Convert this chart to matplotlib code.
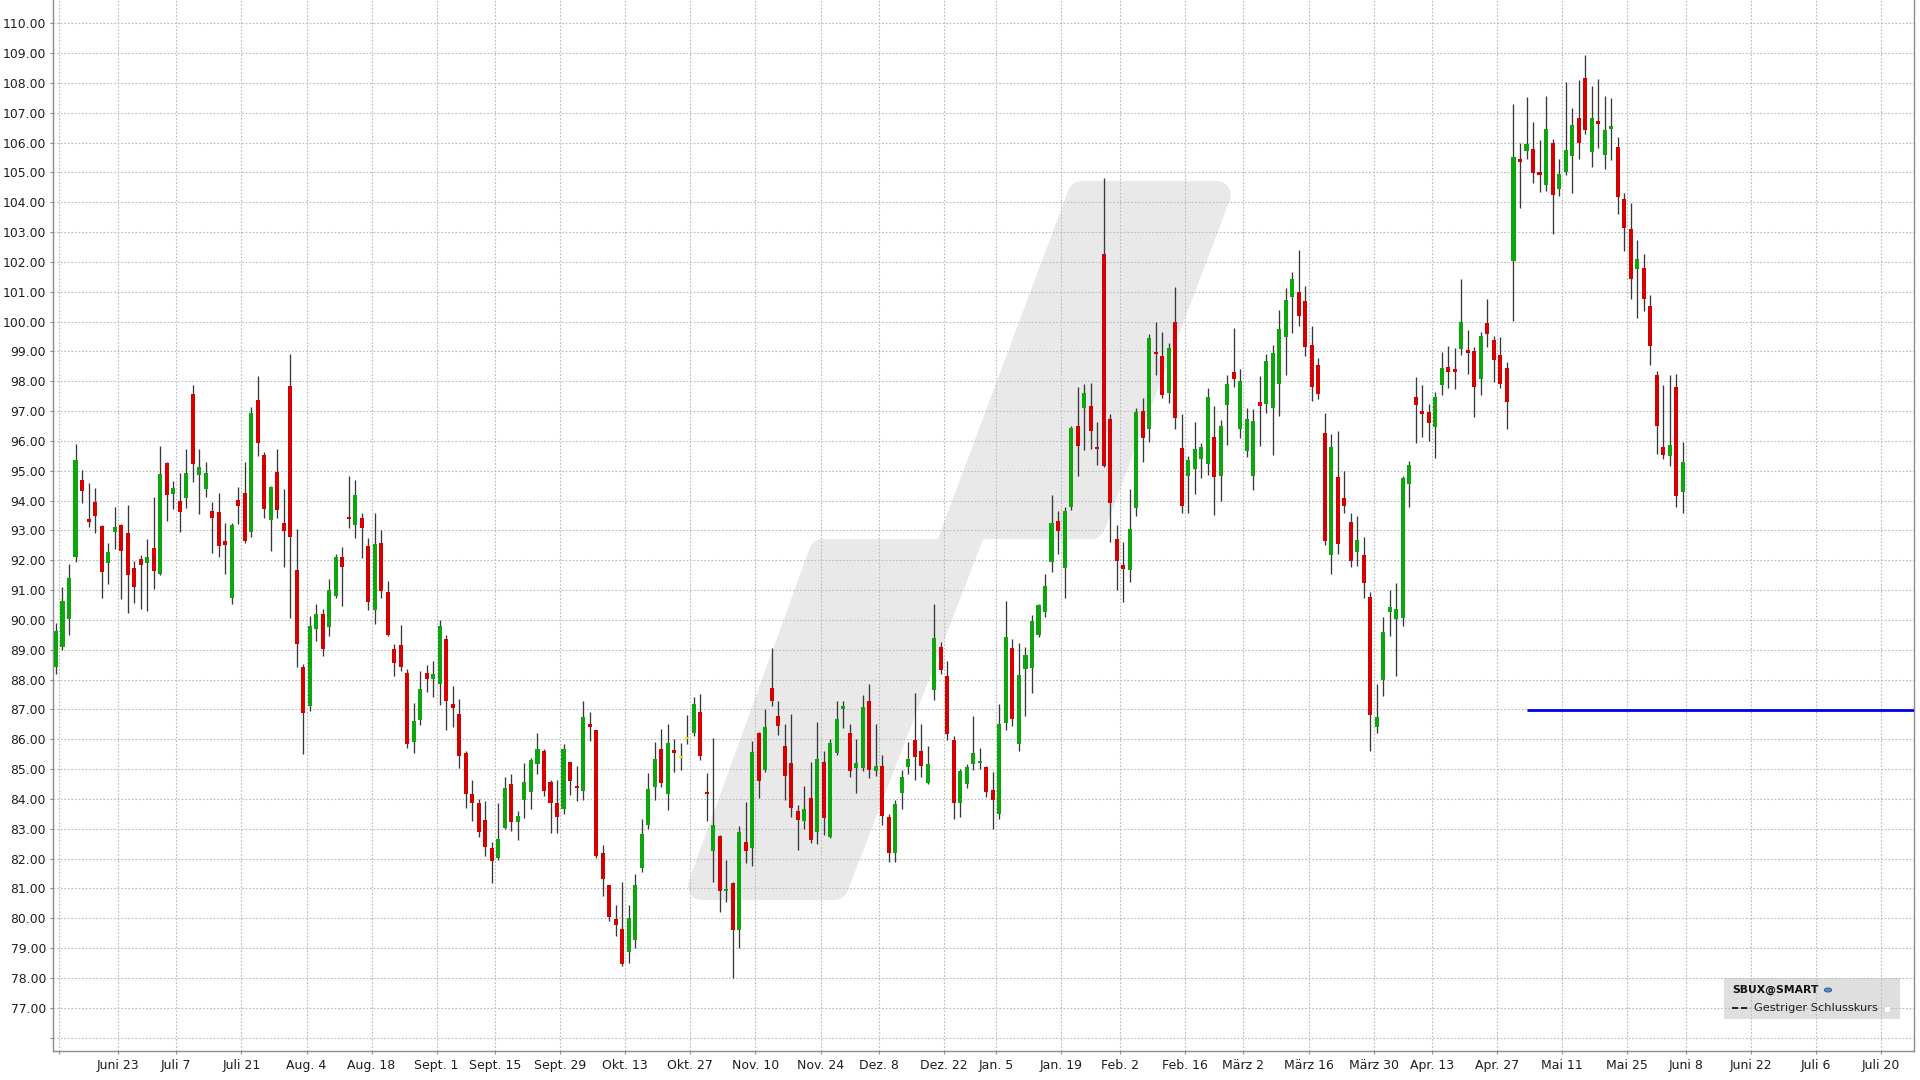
import numpy as np
import pandas as pd
import matplotlib
matplotlib.use("Agg")
import matplotlib.pyplot as plt
from matplotlib.patches import Polygon, Rectangle, Circle
from matplotlib.lines import Line2D

# daily candles SBUX@SMART, first trading day 2014-06-10
opens = [88.41, 89.10, 90.04, 92.10, 94.68, 93.39, 93.94, 93.15, 91.90, 92.94,
         93.18, 92.90, 91.73, 92.05, 91.90, 92.42, 91.53, 95.27, 94.22, 94.00,
         94.08, 97.56, 94.87, 94.38, 93.65, 93.62, 92.63, 90.72, 94.01, 94.27,
         92.95, 97.38, 95.54, 93.36, 94.96, 93.25, 97.85, 91.67, 88.41, 87.13,
         89.70, 90.21, 89.75, 90.80, 92.11, 93.43, 93.19, 93.42, 92.48, 90.32,
         92.59, 90.94, 89.03, 89.15, 88.23, 85.92, 86.64, 88.23, 88.03, 87.86,
         89.36, 87.19, 86.84, 85.55, 84.18, 83.85, 83.29, 82.36, 82.02, 83.02,
         84.49, 83.22, 83.98, 84.24, 85.16, 85.59, 84.56, 83.85, 83.65, 85.23,
         84.41, 84.28, 86.52, 86.30, 82.19, 81.13, 79.98, 79.64, 78.86, 79.26,
         81.70, 83.14, 84.40, 85.68, 84.18, 85.63, 85.40, 86.04, 86.21, 86.90,
         84.23, 82.24, 82.77, 80.92, 81.18, 79.59, 82.54, 82.35, 86.21, 84.98,
         87.72, 86.77, 85.76, 85.20, 83.60, 83.25, 84.03, 82.88, 85.23, 82.72,
         85.54, 87.03, 86.21, 85.03, 85.03, 87.29, 84.92, 85.09, 83.40, 82.20,
         84.19, 85.06, 85.99, 85.61, 84.52, 87.66, 89.09, 88.13, 85.99, 83.85,
         84.49, 85.16, 85.19, 85.06, 84.30, 83.49, 86.56, 89.06, 85.84, 88.34,
         88.38, 89.48, 90.25, 91.95, 93.32, 91.75, 93.77, 96.50, 97.10, 97.18,
         95.81, 102.26, 96.74, 92.71, 91.85, 91.67, 93.75, 97.00, 96.39, 98.97,
         98.85, 97.62, 99.97, 95.76, 94.84, 95.07, 95.40, 95.22, 96.12, 94.84,
         97.21, 98.32, 96.40, 95.65, 94.84, 97.32, 97.23, 97.09, 97.91, 99.49,
         100.83, 101.00, 100.68, 99.21, 98.56, 96.25, 92.16, 94.78, 94.08, 93.29,
         92.26, 92.18, 90.76, 86.41, 88.00, 90.26, 90.02, 90.06, 94.54, 97.48,
         97.00, 96.96, 96.48, 97.89, 98.48, 98.40, 99.08, 99.04, 99.01, 98.07,
         99.96, 99.38, 98.87, 98.44, 102.02, 105.46, 105.72, 105.80, 105.01, 104.57,
         105.97, 104.45, 105.02, 105.55, 106.81, 108.15, 105.69, 106.74, 105.58, 106.47,
         105.86, 104.10, 103.09, 101.77, 101.79, 100.51, 98.22, 95.81, 95.49, 97.80,
         94.29]
highs = [89.88, 91.11, 91.87, 95.90, 95.04, 94.60, 94.42, 93.18, 92.57, 93.80,
         93.20, 93.84, 91.98, 92.16, 92.71, 94.13, 95.83, 95.30, 94.65, 94.94,
         95.74, 97.88, 95.74, 95.30, 93.95, 94.27, 93.26, 93.26, 94.47, 95.30,
         97.15, 98.18, 95.62, 94.50, 95.73, 94.40, 98.92, 93.05, 88.53, 90.13,
         90.54, 90.36, 91.36, 92.22, 92.44, 94.84, 94.69, 93.60, 92.73, 93.57,
         93.00, 91.32, 89.20, 89.84, 88.34, 87.22, 88.30, 88.49, 88.61, 89.99,
         89.50, 87.80, 87.36, 85.60, 84.65, 84.00, 83.93, 82.55, 83.85, 84.74,
         84.85, 83.61, 85.21, 85.38, 86.20, 85.66, 84.65, 84.62, 85.83, 85.25,
         85.12, 87.28, 86.91, 86.30, 82.44, 81.13, 80.46, 81.21, 80.46, 81.47,
         83.31, 84.88, 85.92, 86.33, 86.51, 86.02, 85.87, 86.82, 87.41, 87.53,
         84.87, 86.04, 82.80, 81.94, 81.20, 83.10, 83.88, 85.93, 86.25, 87.01,
         89.06, 87.27, 86.51, 86.84, 83.80, 84.42, 85.23, 86.58, 85.59, 86.00,
         87.29, 87.29, 86.52, 86.00, 87.49, 87.85, 86.51, 85.46, 83.50, 83.97,
         84.97, 85.91, 87.56, 86.51, 85.79, 90.55, 89.25, 88.61, 86.10, 85.00,
         85.16, 86.77, 85.72, 85.12, 84.91, 87.19, 90.63, 89.36, 89.24, 89.09,
         90.18, 90.55, 91.53, 94.18, 93.65, 93.80, 96.50, 97.81, 97.90, 97.95,
         96.65, 104.80, 96.91, 93.19, 92.60, 94.39, 97.09, 97.43, 99.58, 99.99,
         99.66, 99.29, 101.16, 96.89, 95.50, 96.65, 95.92, 97.76, 97.18, 96.70,
         98.21, 99.79, 98.40, 97.12, 97.07, 98.18, 98.91, 99.21, 100.38, 101.14,
         101.67, 102.40, 101.19, 99.85, 98.79, 96.92, 96.23, 96.34, 95.00, 93.57,
         93.50, 92.77, 90.95, 87.86, 90.09, 91.01, 91.23, 94.82, 95.34, 98.15,
         97.89, 97.23, 97.65, 98.99, 99.18, 99.13, 101.42, 99.71, 99.15, 99.66,
         100.77, 99.53, 99.48, 98.66, 107.29, 105.97, 107.54, 106.69, 106.08, 107.57,
         106.11, 105.46, 108.04, 107.17, 108.09, 108.93, 107.90, 108.13, 107.57, 107.51,
         106.19, 104.32, 103.96, 102.75, 102.25, 100.90, 98.33, 97.88, 98.22, 98.25,
         95.98]
lows = [88.18, 89.00, 89.48, 91.95, 93.92, 93.13, 92.90, 90.72, 91.20, 92.37,
        90.69, 90.24, 90.58, 90.35, 90.29, 91.05, 91.50, 93.31, 93.71, 92.95,
        93.74, 94.62, 93.54, 94.11, 92.23, 92.12, 91.54, 90.55, 93.22, 92.59,
        92.79, 95.50, 93.40, 92.30, 93.42, 91.78, 90.07, 88.43, 85.49, 86.96,
        89.30, 88.80, 89.47, 90.74, 90.48, 93.08, 92.73, 92.07, 90.34, 89.87,
        90.72, 89.45, 88.11, 88.30, 85.69, 85.55, 86.49, 87.60, 87.40, 87.16,
        86.30, 86.41, 85.03, 83.68, 83.26, 82.73, 82.08, 81.19, 81.95, 82.98,
        82.92, 82.62, 83.37, 83.65, 84.82, 84.09, 82.86, 82.86, 83.51, 84.12,
        83.94, 83.98, 85.94, 82.02, 80.74, 79.90, 79.40, 78.41, 78.50, 79.00,
        81.54, 83.00, 83.98, 84.41, 83.62, 84.90, 84.96, 85.85, 86.10, 85.31,
        83.25, 81.20, 80.20, 80.56, 78.00, 79.00, 81.85, 81.74, 84.03, 84.89,
        87.10, 86.15, 83.97, 83.41, 82.30, 82.99, 82.52, 82.50, 82.80, 82.69,
        85.48, 86.37, 84.75, 84.20, 84.92, 84.70, 84.78, 83.14, 81.90, 81.90,
        83.67, 84.82, 84.64, 84.72, 84.49, 87.31, 88.20, 85.99, 83.34, 83.41,
        84.37, 84.97, 85.01, 84.07, 83.00, 83.34, 86.32, 86.44, 85.61, 86.77,
        87.56, 89.43, 90.10, 91.60, 92.20, 90.73, 93.70, 94.82, 95.70, 95.72,
        95.20, 95.12, 92.60, 90.99, 90.60, 91.26, 93.49, 95.31, 95.98, 98.21,
        97.43, 97.28, 96.40, 93.58, 93.60, 94.23, 94.75, 94.87, 93.53, 93.97,
        95.87, 97.82, 96.09, 95.46, 94.36, 95.83, 96.93, 95.53, 96.82, 98.21,
        99.62, 99.85, 98.84, 97.35, 97.39, 92.51, 91.54, 92.20, 93.57, 91.77,
        91.82, 90.73, 85.59, 86.21, 87.44, 89.47, 88.13, 89.80, 93.77, 95.94,
        96.14, 96.01, 95.42, 97.54, 97.79, 97.74, 98.88, 98.26, 96.81, 97.54,
        99.15, 97.98, 97.77, 96.39, 100.03, 103.82, 105.44, 104.66, 104.34, 104.38,
        102.92, 104.21, 104.90, 104.30, 105.46, 106.30, 105.18, 105.83, 105.10, 105.42,
        103.61, 102.36, 100.76, 100.12, 100.34, 98.55, 95.56, 95.38, 95.16, 93.79,
        93.59]
closes = [89.63, 90.64, 91.40, 95.36, 94.33, 93.27, 93.50, 91.61, 92.27, 93.10,
          92.32, 91.49, 91.09, 91.85, 92.10, 91.64, 94.89, 94.19, 94.42, 93.63,
          94.94, 95.23, 95.14, 94.94, 93.43, 92.48, 92.52, 93.18, 93.83, 92.63,
          96.93, 95.92, 93.72, 94.44, 93.69, 92.97, 92.79, 89.18, 86.88, 89.80,
          90.19, 89.01, 91.01, 92.12, 91.78, 93.38, 94.18, 93.08, 90.60, 92.56,
          90.97, 89.50, 88.57, 88.41, 85.84, 86.62, 87.68, 88.03, 88.20, 89.80,
          87.28, 87.05, 85.45, 84.16, 83.85, 82.89, 82.39, 81.91, 82.66, 84.36,
          83.22, 83.42, 84.56, 85.29, 85.68, 84.26, 83.85, 83.40, 85.66, 84.60,
          84.35, 86.74, 86.42, 82.08, 81.30, 80.04, 79.79, 78.45, 80.01, 81.13,
          82.84, 84.32, 85.35, 84.52, 85.88, 85.53, 85.40, 86.04, 87.19, 85.45,
          84.17, 83.11, 80.90, 80.95, 79.61, 82.88, 82.24, 85.56, 84.59, 86.40,
          87.29, 86.45, 84.78, 83.69, 83.30, 83.67, 82.63, 85.34, 83.36, 85.89,
          86.69, 87.08, 84.92, 85.20, 87.08, 84.98, 85.12, 83.44, 82.20, 83.82,
          84.72, 85.34, 85.39, 85.09, 85.16, 89.40, 88.31, 86.18, 83.85, 84.94,
          85.06, 85.54, 85.22, 84.22, 83.97, 86.51, 89.43, 86.69, 88.16, 88.83,
          89.96, 90.51, 91.15, 93.25, 92.98, 93.65, 96.42, 95.84, 97.62, 96.34,
          95.73, 95.17, 93.92, 91.99, 91.71, 93.05, 96.98, 96.09, 99.44, 98.91,
          97.54, 99.10, 96.76, 93.81, 95.37, 95.72, 95.81, 97.48, 94.79, 96.50,
          97.91, 98.06, 98.02, 96.74, 96.68, 97.18, 98.68, 98.96, 99.75, 100.74,
          101.42, 100.18, 99.15, 97.81, 97.56, 92.66, 95.81, 92.55, 93.83, 91.98,
          92.68, 91.25, 86.82, 86.73, 89.59, 90.43, 90.36, 94.75, 95.19, 97.20,
          96.90, 96.61, 97.48, 98.46, 98.32, 98.32, 99.99, 98.95, 97.81, 99.51,
          99.57, 98.71, 97.91, 97.29, 105.53, 105.36, 105.94, 104.99, 104.93, 106.45,
          104.26, 104.96, 105.75, 106.58, 105.98, 106.42, 106.84, 106.64, 106.41, 106.52,
          104.17, 103.13, 101.43, 102.10, 100.76, 99.17, 96.50, 95.53, 95.86, 94.15,
          95.30]

first_day = "2014-06-10"
holidays = ["2014-07-04", "2014-09-01", "2014-11-27", "2014-12-25", "2015-01-01",
            "2015-01-19", "2015-02-16", "2015-04-03", "2015-05-25"]
first_tick = "2014-06-09"   # ticks every second Monday
tick_labels = ["", "Juni 23", "Juli 7", "Juli 21", "Aug. 4", "Aug. 18", "Sept. 1",
               "Sept. 15", "Sept. 29", "Okt. 13", "Okt. 27", "Nov. 10", "Nov. 24",
               "Dez. 8", "Dez. 22", "Jan. 5", "Jan. 19", "Feb. 2", "Feb. 16",
               "März 2", "März 16", "März 30", "Apr. 13", "Apr. 27", "Mai 11",
               "Mai 25", "Juni 8", "Juni 22", "Juli 6", "Juli 20"]
price_ticks = np.arange(76, 111)
prev_close = 86.97
prev_close_from = "2015-05-04"
symbol = "SBUX@SMART"
level_name = "Gestriger Schlusskurs"

green, red, yellow = "#0ea60e", "#d60000", "#f2e200"
W, H = 1920, 1080

# trading calendar (future part without holidays)
days = pd.bdate_range(first_day, "2015-09-30")
days = days[~days.isin(pd.to_datetime(holidays))]
def pos(d):
    return days.searchsorted(pd.Timestamp(d))

o = np.array(opens); c = np.array(closes)
h = np.maximum(np.array(highs), np.maximum(o, c))
l = np.minimum(np.array(lows), np.minimum(o, c))
x = np.arange(len(o))

fig = plt.figure(figsize=(19.2, 10.8), dpi=100)
ax = fig.add_axes([53 / W, 1 - 1050.7 / H, (1914.3 - 53) / W, 1050.7 / H])
ax.set_xlim(-0.46, 285.6)
ax.set_ylim(75.56, 110.78)

# background logo (inset outline, widened by a round-joined stroke)
pts = [(1081.6, 195), (1216.8, 195), (1091.4, 525), (973.5, 525), (834.5, 886),
       (702.0, 886), (822.8, 553), (947.6, 553)]
logo = Polygon([(px / W, 1 - py / H) for px, py in pts], closed=True,
               transform=fig.transFigure, facecolor="#e9e9e9", edgecolor="#e9e9e9",
               linewidth=20.2, joinstyle="round", zorder=0.2)
ax.add_patch(logo)

# grid
tick_dates = pd.date_range(first_tick, periods=len(tick_labels), freq="14D")
xt = [pos(d) + 0.5 for d in tick_dates]
ax.set_xticks(xt)
ax.set_xticklabels(tick_labels)
ax.set_yticks(price_ticks)
ax.set_yticklabels(["" if v == 76 else "%.2f" % v for v in price_ticks])
ax.set_axisbelow(True)
ax.grid(True, color="#bcbcbc", linestyle=(0, (1.6, 1.6)), linewidth=0.8)
for gl in ax.get_xgridlines() + ax.get_ygridlines():
    gl.set_zorder(0.5)

# candles
up = c > o
down = c < o
cols = np.where(up, green, np.where(down, red, yellow))
body_h = np.maximum(np.abs(c - o), 0.07)
body_b = np.where(c == o, o - 0.035, np.minimum(o, c))
ax.vlines(x, l, h, color="#383838", linewidth=0.95, zorder=2)
ax.bar(x, body_h, width=0.62, bottom=body_b, color=cols, linewidth=0, zorder=3)

# previous close level
ax.hlines(prev_close, pos(prev_close_from), 400, color="#0000e6", linewidth=2.0, zorder=4)

# axes styling
for side in ["left", "bottom", "right"]:
    ax.spines[side].set_color("#8c8c8c")
    ax.spines[side].set_linewidth(1.0)
ax.spines["top"].set_visible(False)
ax.tick_params(axis="x", direction="out", length=2.2, width=0.8, color="#8c8c8c",
               labelsize=9, pad=3.6, labelcolor="#1e1e1e")
ax.tick_params(axis="y", direction="out", length=2.2, width=0.8, color="#8c8c8c",
               labelsize=8.9, pad=2.9, labelcolor="#1e1e1e")

# legend box
ax.add_patch(Rectangle((1724 / W, 1 - 1019.3 / H), 176 / W, 41 / H,
                       transform=fig.transFigure, facecolor="#dcdcdc",
                       edgecolor="none", alpha=0.9, zorder=0.3))
fig.text(1732 / W, 1 - 990 / H, symbol, fontsize=7.8, fontweight="bold",
         color="#111111", va="center", ha="left")
fig.patches.append(Circle((1828 / W, 1 - 990 / H), 0.0019, transform=fig.transFigure,
                          facecolor="#5b8fd0", edgecolor="#26508f", linewidth=0.6))
fig.lines.append(Line2D([1732 / W, 1750 / W], [1 - 1008.3 / H] * 2,
                        transform=fig.transFigure, color="#222222",
                        linewidth=1.4, linestyle=(0, (3.2, 1.4))))
fig.text(1754 / W, 1 - 1008.3 / H, level_name, fontsize=8.2, color="#1e1e1e",
         va="center", ha="left")
fig.patches.append(Rectangle((1884 / W, 1 - 1011.5 / H), 6 / W, 6 / H,
                             transform=fig.transFigure, facecolor="white",
                             edgecolor="#cfcfcf", linewidth=0.5))

fig.savefig("out.png", dpi=100)
